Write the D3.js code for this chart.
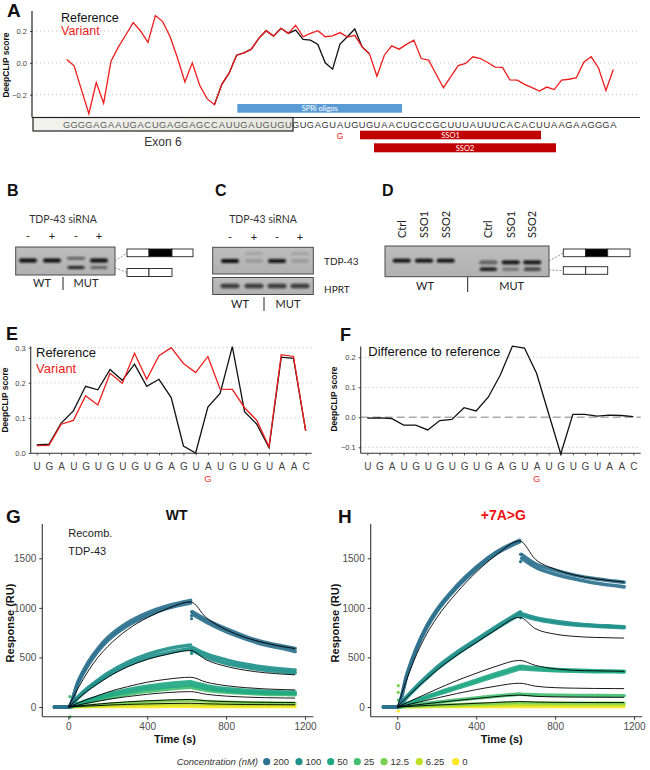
<!DOCTYPE html>
<html><head><meta charset="utf-8">
<script src="https://cdn.jsdelivr.net/npm/d3@7"></script>
<style>body{margin:0;background:#fff}svg{display:block}</style>
</head><body><svg id="c" width="650" height="770"></svg>
<script>
// ---------------- DATA ----------------
const seqExon = "GGGGAGAAUGACUGAGGAGCCAUUGAUGUGU";
const seqIntron = "GUGAGUAUGUGUAACUGCCGCUUUAUUUCACACUUAAGAAGGGA";
const aVariant = [0.021,-0.019,-0.17,-0.32,-0.124,-0.253,0.01,0.10,0.175,0.253,0.2,0.128,0.297,0.259,0.164,0.03,-0.12,0.0,-0.141,-0.225,-0.263,-0.135,-0.063,0.048,0.063,0.086,0.154,0.202,0.168,0.217,0.185,0.236,0.164,0.185,0.202,0.164,0.17,0.19,0.162,0.173,0.10,0.055,-0.084,0.048,0.107,0.086,0.116,0.143,0.027,0.017,-0.07,-0.156,-0.086,-0.017,-0.004,0.038,0.027,0.002,-0.027,-0.029,-0.107,-0.109,-0.135,-0.156,-0.177,-0.152,-0.168,-0.109,-0.103,-0.093,0.004,0.038,-0.032,-0.173,-0.042];
const aRefStart = 20;
const aReference = [-0.263,-0.135,-0.063,0.048,0.063,0.086,0.154,0.202,0.168,0.217,0.185,0.206,0.147,0.143,0.115,0.0,-0.04,0.118,0.164,0.213,0.10,0.055];
const aTicks = [-0.2,0,0.2];

const eLetters = ["U","G","A","U","G","U","G","U","G","U","G","A","G","U","A","U","G","U","G","U","A","A","C"];
const eMutIndex = 14;
const eReference = [0.023,0.025,0.085,0.12,0.19,0.18,0.238,0.207,0.253,0.19,0.21,0.158,0.02,0.0,0.131,0.17,0.303,0.118,0.082,0.015,0.273,0.27,0.063];
const eVariant = [0.021,0.022,0.082,0.093,0.163,0.137,0.227,0.199,0.284,0.21,0.277,0.30,0.255,0.229,0.275,0.182,0.181,0.129,0.093,0.018,0.28,0.275,0.063];
const eTicks = [0,0.1,0.2,0.3];
const fDiff = [-0.003,-0.002,-0.004,-0.026,-0.026,-0.042,-0.011,-0.007,0.032,0.021,0.067,0.141,0.237,0.231,0.147,0.012,-0.122,0.01,0.01,0.004,0.007,0.006,0.002];
const fTicks = [-0.1,0,0.1,0.2];

// gels
const gelBLanes = ["-","+","-","+"];
const gelBUpper = [1,1,0.6,1];
const gelBLower = [0,0,0.9,0.45];
const gelCLanes = ["-","+","-","+"];
const gelCTdp = [1,0.15,0.95,0.15];
const gelCHprt = [0.75,0.75,0.75,0.75];
const gelDLanes = ["Ctrl","SSO1","SSO2","Ctrl","SSO1","SSO2"];
const gelDUpper = [1,1,1,0.55,1,1];
const gelDLower = [0,0,0,0.95,0.35,0.7];

// SPR
const concLevels = [200,100,50,25,12.5,6.25,0];
const sprTimesAssoc = [-70,0,50,100,150,200,300,400,500,620];
const sprTimesDiss = [630,700,800,900,1000,1100,1150];
const fitTimesDiss = [620,700,800,900,1000,1100,1150];
const sprXTicks = [0,400,800,1200];
const sprYTicks = [0,500,1000,1500];

const wtDataConc = [200,200,100,100,50,50,25,12.5,6.25,0];
const wtDataAssoc = [
 [0,0,260,450,590,700,850,950,1020,1075],
 [0,0,240,420,560,670,820,920,995,1050],
 [0,0,105,195,270,340,450,530,585,625],
 [0,0,95,180,250,315,420,495,545,590],
 [0,0,35,70,100,130,175,210,235,255],
 [0,0,30,60,88,112,152,185,205,225],
 [0,0,25,50,72,92,128,158,180,200],
 [0,0,8,16,23,30,42,52,60,68],
 [0,0,4,8,11,14,19,23,27,30],
 [0,0,1,1,2,2,3,3,4,4]];
const wtDataDiss = [
 [960,880,790,710,650,610,590],
 [935,855,760,685,625,585,560],
 [600,535,475,430,400,380,372],
 [570,500,440,400,370,352,345],
 [250,215,185,168,158,152,150],
 [220,190,165,150,142,137,135],
 [195,170,150,138,130,126,124],
 [66,58,50,45,42,40,39],
 [29,26,23,21,20,19,19],
 [4,3,3,3,3,3,3]];
const wtFitAssoc = [
 [0,0,190,360,500,610,780,900,990,1060],
 [0,0,85,165,235,300,405,480,530,570],
 [0,0,40,80,115,150,205,250,280,300],
 [0,0,20,40,58,76,105,128,145,155],
 [0,0,10,20,29,38,52,63,70,76],
 [0,0,5,10,14,19,26,31,35,38]];
const wtFitDiss = [
 [1060,900,780,700,645,605,590],
 [570,475,410,370,345,330,325],
 [300,250,215,195,182,175,172],
 [155,128,110,100,94,91,90],
 [76,63,55,50,47,46,45],
 [38,32,28,25,24,23,23]];
const wtOutT = [8,8,625,625,625,625,625];
const wtOutV = [105,-100,960,920,890,560,540];
const wtOutC = [25,25,200,200,200,100,100];

const mutDataConc = [200,200,100,100,50,50,25,12.5,6.25,0];
const mutDataAssoc = [
 [0,0,340,610,820,980,1220,1410,1560,1680],
 [0,0,325,595,800,960,1200,1390,1545,1665],
 [0,0,110,215,310,400,550,680,810,955],
 [0,0,100,200,292,382,530,660,790,935],
 [0,0,35,72,106,140,205,270,335,410],
 [0,0,30,62,94,126,188,250,312,385],
 [0,0,12,25,37,48,70,90,110,130],
 [0,0,5,10,14,18,25,32,38,45],
 [0,0,2,5,7,9,13,17,20,24],
 [0,0,1,1,1,2,2,3,3,3]];
const mutDataDiss = [
 [1540,1445,1380,1330,1295,1270,1258],
 [1500,1410,1340,1290,1250,1225,1212],
 [940,900,865,840,825,815,810],
 [925,885,850,828,815,805,800],
 [410,395,380,372,366,362,360],
 [385,375,365,360,357,355,354],
 [128,122,118,116,115,114,114],
 [44,42,41,40,40,40,40],
 [23,22,22,21,21,21,21],
 [3,3,3,3,3,3,3]];
const mutFitAssoc = [
 [0,0,290,540,740,900,1150,1360,1530,1675],
 [0,0,100,195,285,370,520,650,780,905],
 [0,0,45,90,135,180,265,340,410,470],
 [0,0,22,45,68,90,135,175,210,240],
 [0,0,11,22,33,45,65,85,105,120],
 [0,0,5,10,15,20,28,37,46,55]];
const mutFitDiss = [
 [1675,1490,1390,1330,1295,1270,1260],
 [905,790,735,712,702,697,695],
 [470,420,385,370,365,362,360],
 [240,210,195,190,187,186,185],
 [120,108,102,100,99,98,98],
 [55,50,47,46,45,45,45]];
const mutOutT = [5,5,5,5,625,625,625,625];
const mutOutV = [215,148,70,-40,1466,1540,900,960];
const mutOutC = [12.5,12.5,25,0,200,200,100,100];

// ---------------- DRAW ----------------
const F = '"Liberation Sans", Arial, Helvetica, sans-serif';
const GF = 'Lato, "Open Sans", sans-serif';
const svg = d3.select("#c");
const defs = svg.append("defs");
defs.append("filter").attr("id","blur").attr("x","-20%").attr("y","-100%").attr("width","140%").attr("height","300%")
  .append("feGaussianBlur").attr("stdDeviation","0.9");
const eg = defs.append("linearGradient").attr("id","exg").attr("x1","0").attr("x2","1");
eg.append("stop").attr("offset","0").attr("stop-color","#f3f3ee");
eg.append("stop").attr("offset","1").attr("stop-color","#e8e7df");
const gg = defs.append("linearGradient").attr("id","gelg").attr("x1","0").attr("x2","0").attr("y1","0").attr("y2","1");
gg.append("stop").attr("offset","0").attr("stop-color","#bdbdbd");
gg.append("stop").attr("offset","1").attr("stop-color","#b1b1b1");

function T(x,y,s,o={}){
  const t = svg.append("text").attr("x",x).attr("y",y).text(s)
    .attr("font-family",o.ff||F).attr("font-size",o.fs||10).attr("fill",o.fill||"#222");
  if(o.anchor) t.attr("text-anchor",o.anchor);
  if(o.fw) t.attr("font-weight",o.fw);
  if(o.fst) t.attr("font-style",o.fst);
  if(o.rot!==undefined) t.attr("transform",`rotate(${o.rot},${x},${y})`);
  return t;
}
function L(x1,y1,x2,y2,st="#333",w=1,dash=null){
  const l=svg.append("line").attr("x1",x1).attr("y1",y1).attr("x2",x2).attr("y2",y2).attr("stroke",st).attr("stroke-width",w);
  if(dash) l.attr("stroke-dasharray",dash);
  return l;
}
function panelLabel(x,y,s,fs=18){ T(x,y,s,{fs:fs,fw:"bold",fill:"#111"}); }

// ===== Panel A =====
panelLabel(7,17,"A",19);
const xA = d3.scaleLinear().domain([0,74]).range([66.7,613.3]);
const yA = d3.scaleLinear().domain([-0.2,0.2]).range([94.7,31]);
aTicks.forEach(v=>L(32,yA(v),640,yA(v),"#bbb",1,"1,3"));
svg.append("rect").attr("x",xA(23.1)).attr("y",104).attr("width",xA(45.4)-xA(23.1)).attr("height",8.7).attr("fill","#5b9bd5");
T((xA(23.1)+xA(45.4))/2,111,"SPRi oligos",{fs:7.5,ff:GF,fill:"#fff",anchor:"middle"});
const lineA = d3.line().x((d,i)=>xA(i)).y(d=>yA(d));
svg.append("path").attr("d",d3.line().x((d,i)=>xA(i+aRefStart)).y(d=>yA(d))(aReference)).attr("fill","none").attr("stroke","#111").attr("stroke-width",1.3);
svg.append("path").attr("d",lineA(aVariant)).attr("fill","none").attr("stroke","#ee1c1c").attr("stroke-width",1.3);
const yAxA = svg.append("g").attr("transform","translate(32,0)").call(d3.axisLeft(yA).tickValues(aTicks).tickFormat(d3.format(".1f")).tickSize(2).tickSizeOuter(0));
yAxA.select(".domain").remove();
yAxA.selectAll("text").attr("font-family",F).attr("font-size",7.5).attr("fill","#444");
yAxA.selectAll("line").attr("stroke","#444");
L(32,11,32,117.5,"#222",1.2);
svg.append("rect").attr("x",33).attr("y",117.5).attr("width",260).attr("height",13.5).attr("fill","url(#exg)").attr("stroke","#222").attr("stroke-width",1.2);
L(32,117.5,640,117.5,"#222",1.2);
const seqAll = (seqExon+seqIntron).split("");
seqAll.forEach((c,i)=>T(xA(i),128.3,c,{fs:9.3,anchor:"middle",fill: i<seqExon.length?"#5a5a5a":"#333"}));
T(163,146,"Exon 6",{fs:12,fill:"#333",anchor:"middle"});
T(xA(37),138.5,"G",{fs:8.5,fill:"#ee2222",anchor:"middle"});
svg.append("rect").attr("x",360).attr("y",130.7).attr("width",181).attr("height",8.6).attr("fill","#c00000");
T(450.5,138,"SSO1",{fs:7.5,ff:GF,fill:"#fff",anchor:"middle"});
svg.append("rect").attr("x",374).attr("y",143.3).attr("width",182).attr("height",9).attr("fill","#c00000");
T(465,151,"SSO2",{fs:7.5,ff:GF,fill:"#fff",anchor:"middle"});
T(9,65,"DeepCLIP score",{fs:8.5,fw:"bold",anchor:"middle",rot:-90,fill:"#111"});
T(61,21.5,"Reference",{fs:12.5,fill:"#111"});
T(61,35,"Variant",{fs:12.5,fill:"#ee1c1c"});

// ===== Gels =====
function gel(x,y,w,h){
  svg.append("rect").attr("x",x).attr("y",y).attr("width",w).attr("height",h).attr("fill","url(#gelg)").attr("stroke","#4a4a4a").attr("stroke-width",1);
}
function band(cx,cy,w,h,op){
  if(op<=0) return;
  svg.append("rect").attr("x",cx-w/2).attr("y",cy-h/2).attr("width",w).attr("height",h).attr("rx",h/2)
    .attr("fill","#0d0d0d").attr("fill-opacity",op).attr("filter","url(#blur)");
}
function exonDiag(x,y,segs,h){
  let cx=x;
  segs.forEach(s=>{svg.append("rect").attr("x",cx).attr("y",y).attr("width",s[0]).attr("height",h).attr("fill",s[1]).attr("stroke","#222").attr("stroke-width",0.9); cx+=s[0];});
}
// B
panelLabel(7,196,"B",16);
T(63,222.5,"TDP-43 siRNA",{fs:10.5,ff:GF,fill:"#333",anchor:"middle"});
const bX = [28,52,76,99];
gelBLanes.forEach((s,i)=>T(bX[i],240,s,{fs:11,ff:GF,fill:"#222",anchor:"middle"}));
gel(15.7,247,99.3,28);
gelBUpper.forEach((v,i)=>band(bX[i],i==2?258.3:260.5,18,i==2?2.6:3.8,v));
gelBLower.forEach((v,i)=>band(bX[i],267.5,17,3.2,v));
T(42,287,"WT",{fs:11,ff:GF,fill:"#222",anchor:"middle"});
T(86,287,"MUT",{fs:11,ff:GF,fill:"#222",anchor:"middle"});
L(63,277,63,290,"#222",1);
L(115,261,127,253,"#777",0.8,"2,1.5");
L(115,268,127,272.5,"#777",0.8,"2,1.5");
exonDiag(127,249,[[22,"#fff"],[23,"#000"],[21,"#fff"]],7.7);
exonDiag(127,268.5,[[22,"#fff"],[23,"#fff"]],8);
// C
panelLabel(215,196,"C",16);
T(263,222.5,"TDP-43 siRNA",{fs:10.5,ff:GF,fill:"#333",anchor:"middle"});
const cX = [230,254,277,300];
gelCLanes.forEach((s,i)=>T(cX[i],241,s,{fs:11,ff:GF,fill:"#222",anchor:"middle"}));
gel(212.7,247.3,100.6,26.7);
gelCTdp.forEach((v,i)=>band(cX[i],261,18,3.8,v));
gelCTdp.forEach((v,i)=>band(cX[i],253.5,18,3,v<0.5?0.12:0));
gel(212.7,277.5,100.6,17);
gelCHprt.forEach((v,i)=>band(cX[i],286,19,4.5,v));
T(324,265,"TDP-43",{fs:10,ff:GF,fill:"#222"});
T(324,292.5,"HPRT",{fs:10,ff:GF,fill:"#222"});
T(240,308,"WT",{fs:11,ff:GF,fill:"#222",anchor:"middle"});
T(288,308,"MUT",{fs:11,ff:GF,fill:"#222",anchor:"middle"});
L(264,297,264,311,"#222",1);
// D
panelLabel(382,196,"D",16);
const dX = [401.7,424,445.7,488.3,510.7,532.3];
gelDLanes.forEach((s,i)=>T(dX[i]+3.8,238,s,{fs:11,ff:GF,fill:"#222",rot:-90}));
gel(385,246,164,30.7);
gelDUpper.forEach((v,i)=>band(dX[i],i<3?260.7:262.3,18,3.8,v));
gelDLower.forEach((v,i)=>band(dX[i],269.3,17,3.4,v));
T(425,290,"WT",{fs:11,ff:GF,fill:"#222",anchor:"middle"});
T(511.7,290,"MUT",{fs:11,ff:GF,fill:"#222",anchor:"middle"});
L(467.7,277,467.7,292,"#222",1);
L(549,261,563.3,253,"#777",0.8,"2,1.5");
L(549,270,563.3,270.5,"#777",0.8,"2,1.5");
exonDiag(563.3,249,[[22.4,"#fff"],[22,"#000"],[22.3,"#fff"]],7.7);
exonDiag(563.3,266.7,[[22.4,"#fff"],[22,"#fff"]],7.6);

// ===== Panel E =====
panelLabel(6,340,"E",18);
const xE = d3.scaleLinear().domain([0,22]).range([36.7,305.7]);
const yE = d3.scaleLinear().domain([0,0.3]).range([453,347.7]);
eTicks.forEach(v=>{ if(v>0) L(30.7,yE(v),311.7,yE(v),"#bbb",1,"1,3"); });
function styleAxis(g){ g.selectAll("text").attr("font-family",F).attr("fill","#444"); g.selectAll("line").attr("stroke","#444"); g.select(".domain").remove(); }
const eyAx = svg.append("g").attr("transform","translate(30.7,0)").call(d3.axisLeft(yE).tickValues(eTicks).tickFormat(d3.format(".1f")).tickSize(2).tickSizeOuter(0));
styleAxis(eyAx); eyAx.selectAll("text").attr("font-size",7.5);
const exAx = svg.append("g").attr("transform","translate(0,453.3)").call(d3.axisBottom(xE).tickValues(d3.range(eLetters.length)).tickFormat(i=>eLetters[i]).tickSize(2).tickPadding(8).tickSizeOuter(0));
styleAxis(exAx); exAx.selectAll("text").attr("font-size",10);
L(30.7,346.5,30.7,453.3,"#333",1.1); L(30.7,453.3,311.7,453.3,"#333",1.1);
svg.append("path").attr("d",d3.line().x((d,i)=>xE(i)).y(d=>yE(d))(eReference)).attr("fill","none").attr("stroke","#111").attr("stroke-width",1.3);
svg.append("path").attr("d",d3.line().x((d,i)=>xE(i)).y(d=>yE(d))(eVariant)).attr("fill","none").attr("stroke","#ee1c1c").attr("stroke-width",1.3);
T(xE(eMutIndex),481.5,"G",{fs:9.5,fill:"#ee3333",anchor:"middle"});
T(7.5,400,"DeepCLIP score",{fs:8.5,fw:"bold",anchor:"middle",rot:-90,fill:"#111"});
T(36,357,"Reference",{fs:13,fill:"#111"});
T(36,373,"Variant",{fs:13,fill:"#ee1c1c"});

// ===== Panel F =====
panelLabel(340,341,"F",18);
const xF = d3.scaleLinear().domain([0,22]).range([367.3,633.3]);
const yF = d3.scaleLinear().domain([-0.1,0.2]).range([447.3,357.3]);
fTicks.forEach(v=>{ if(v!==0) L(360.7,yF(v),640.7,yF(v),"#bbb",1,"1,3"); });
L(360.7,yF(0),640.7,yF(0),"#aaa",1.6,"8,4");
const fyAx = svg.append("g").attr("transform","translate(360.7,0)").call(d3.axisLeft(yF).tickValues(fTicks).tickFormat(d3.format(".1f")).tickSize(2).tickSizeOuter(0));
styleAxis(fyAx); fyAx.selectAll("text").attr("font-size",7.5);
const fxAx = svg.append("g").attr("transform","translate(0,453.3)").call(d3.axisBottom(xF).tickValues(d3.range(eLetters.length)).tickFormat(i=>eLetters[i]).tickSize(2).tickPadding(8).tickSizeOuter(0));
styleAxis(fxAx); fxAx.selectAll("text").attr("font-size",10);
L(360.7,346.5,360.7,453.3,"#333",1.1); L(360.7,453.3,640.7,453.3,"#333",1.1);
svg.append("path").attr("d",d3.line().x((d,i)=>xF(i)).y(d=>yF(d))(fDiff)).attr("fill","none").attr("stroke","#111").attr("stroke-width",1.3);
T(xF(eMutIndex),481.5,"G",{fs:9.5,fill:"#ee3333",anchor:"middle"});
T(337,399,"DeepCLIP score",{fs:8.5,fw:"bold",anchor:"middle",rot:-90,fill:"#111"});
T(368.3,355.5,"Difference to reference",{fs:13,fill:"#111"});

// ===== SPR panels =====
const concT = [0.37,0.5,0.6,0.7,0.8,0.9,1.0];
const colorOf = c => d3.interpolateViridis(concT[concLevels.indexOf(c)]);
function spr(x0Pix, axX, dataConc, dAssoc, dDiss, fAssoc, fDiss, oT, oV, oC){
  const xS = d3.scaleLinear().domain([0,1200]).range([x0Pix, x0Pix+236.7]);
  const yS = d3.scaleLinear().domain([0,1500]).range([707,558.3]);
  const ln = d3.line().x(d=>xS(d[0])).y(d=>yS(d[1])).curve(d3.curveMonotoneX);
  const g = svg.append("g");
  for(let k=dataConc.length-1;k>=0;k--){
    const col = colorOf(dataConc[k]);
    const w = dataConc[k]>=25?3.6:3;
    g.append("path").attr("d",ln(sprTimesAssoc.map((t,i)=>[t,dAssoc[k][i]]))).attr("fill","none").attr("stroke",col).attr("stroke-width",w).attr("stroke-linecap","round").attr("stroke-opacity",0.92);
    g.append("path").attr("d",ln(sprTimesDiss.map((t,i)=>[t,dDiss[k][i]]))).attr("fill","none").attr("stroke",col).attr("stroke-width",w).attr("stroke-linecap","round").attr("stroke-opacity",0.92);
  }
  oT.forEach((t,i)=>g.append("circle").attr("cx",xS(t)).attr("cy",yS(oV[i])).attr("r",1.6).attr("fill",colorOf(oC[i])));
  fAssoc.forEach((a,k)=>{
    const pts = sprTimesAssoc.slice(1).map((t,i)=>[t,a[i+1]]).concat(fitTimesDiss.slice(1).map((t,i)=>[t,fDiss[k][i+1]]));
    g.append("path").attr("d",ln(pts)).attr("fill","none").attr("stroke","#000").attr("stroke-width",0.9);
  });
  const ax = svg.append("g").attr("transform",`translate(${axX},0)`).call(d3.axisLeft(yS).tickValues(sprYTicks).tickFormat(d3.format("d")).tickSize(3).tickSizeOuter(0));
  ax.select(".domain").remove();
  ax.selectAll("text").attr("font-family",F).attr("font-size",10).attr("fill","#4d4d4d");
  ax.selectAll("line").attr("stroke","#333");
  const bx = svg.append("g").attr("transform","translate(0,716.7)").call(d3.axisBottom(xS).tickValues(sprXTicks).tickFormat(d3.format("d")).tickSize(3).tickSizeOuter(0));
  bx.select(".domain").remove();
  bx.selectAll("text").attr("font-family",F).attr("font-size",10).attr("fill","#4d4d4d");
  bx.selectAll("line").attr("stroke","#333");
  L(axX,524,axX,716.7,"#333",1.1);
  L(axX,716.7,x0Pix+245,716.7,"#333",1.1);
  return xS;
}
panelLabel(6,523,"G",19);
spr(68.3,42.3,wtDataConc,wtDataAssoc,wtDataDiss,wtFitAssoc,wtFitDiss,wtOutT,wtOutV,wtOutC);
T(176.7,519.5,"WT",{fs:14,fw:"bold",anchor:"middle",fill:"#111"});
T(68.3,537,"Recomb.",{fs:11,fill:"#222"});
T(68.3,554.5,"TDP-43",{fs:11,fill:"#222"});
T(175,743,"Time (s)",{fs:11,fw:"bold",anchor:"middle",fill:"#111"});
T(13.5,623,"Response (RU)",{fs:11,fw:"bold",anchor:"middle",rot:-90,fill:"#111"});

panelLabel(338,523,"H",19);
spr(397.3,370.7,mutDataConc,mutDataAssoc,mutDataDiss,mutFitAssoc,mutFitDiss,mutOutT,mutOutV,mutOutC);
T(503.3,519.5,"+7A>G",{fs:14,fw:"bold",anchor:"middle",fill:"#ee1111"});
T(501.7,743,"Time (s)",{fs:11,fw:"bold",anchor:"middle",fill:"#111"});
T(339,623,"Response (RU)",{fs:11,fw:"bold",anchor:"middle",rot:-90,fill:"#111"});

// legend
T(176.7,765,"Concentration (nM)",{fs:9.5,fst:"italic",fill:"#333"});
const legX = [266.7,299,330.7,357.3,384,419.3,455.7];
concLevels.forEach((c,i)=>{
  svg.append("circle").attr("cx",legX[i]).attr("cy",761.7).attr("r",3.6).attr("fill",colorOf(c));
  T(legX[i]+6.5,765,String(c),{fs:9.5,fill:"#333"});
});
</script></body></html>
